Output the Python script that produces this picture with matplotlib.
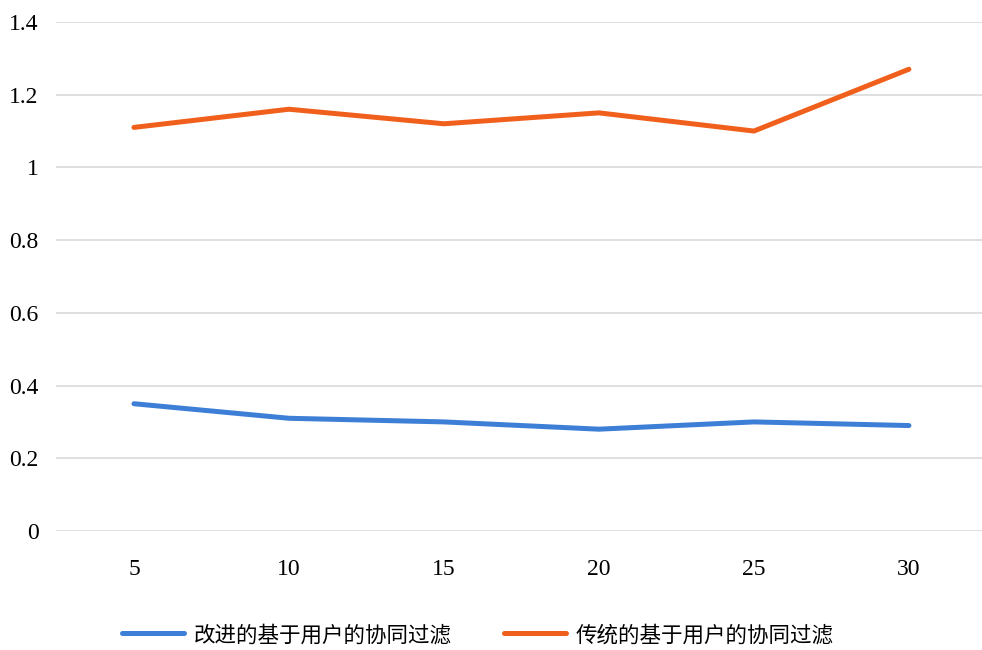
import matplotlib

matplotlib.use("Agg")

import matplotlib.pyplot as plt

plt.rcParams["font.family"] = ["Liberation Serif", "Noto Sans CJK SC", "DejaVu Sans"]

# neighbour count on the x axis, error metric per method
neighbours = ["5", "10", "15", "20", "25", "30"]
improved_cf = [0.35, 0.31, 0.30, 0.28, 0.30, 0.29]
traditional_cf = [1.11, 1.16, 1.12, 1.15, 1.10, 1.27]
series_names = ["改进的基于用户的协同过滤", "传统的基于用户的协同过滤"]
y_ticks = [0, 0.2, 0.4, 0.6, 0.8, 1.0, 1.2, 1.4]
y_tick_labels = ["0", "0.2", "0.4", "0.6", "0.8", "1", "1.2", "1.4"]

BLUE = "#3d7fd6"
ORANGE = "#f0601c"
GRID = "#d9d9d9"

fig = plt.figure(figsize=(9.82, 6.5), dpi=100)
ax = fig.add_axes([0.0575, 0.1831, 0.947, 0.7831])

x = range(len(neighbours))
ax.plot(x, improved_cf, color=BLUE, linewidth=3.6, solid_capstyle="round",
        label=series_names[0])
ax.plot(x, traditional_cf, color=ORANGE, linewidth=3.6, solid_capstyle="round",
        label=series_names[1])

ax.set_xlim(-0.5, 5.5)
ax.set_ylim(0, 1.4)
ax.set_xticks(list(x))
ax.set_xticklabels(neighbours)
ax.set_yticks(y_ticks)
ax.set_yticklabels(y_tick_labels)
ax.tick_params(axis="both", length=0, labelsize=17, colors="black")
ax.tick_params(axis="x", pad=20)
ax.tick_params(axis="y", pad=13)
ax.grid(axis="y", color=GRID, linewidth=1.2)
ax.set_axisbelow(True)
for side in ("top", "right", "left", "bottom"):
    ax.spines[side].set_visible(False)

ax.legend(loc="center", bbox_to_anchor=(478 / 982, 15 / 650),
          bbox_transform=fig.transFigure, ncol=2, frameon=False,
          prop={"family": ["Noto Sans CJK SC"], "size": 15.5},
          handlelength=2.9, handletextpad=0.45, columnspacing=2.4)

fig.savefig("out.png", dpi=100)
